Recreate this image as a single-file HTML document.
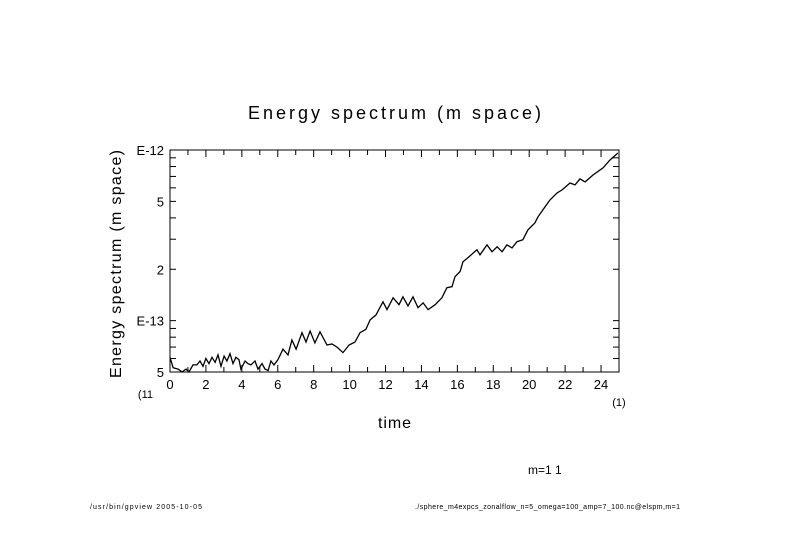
<!DOCTYPE html>
<html><head><meta charset="utf-8"><style>
html,body{margin:0;padding:0;background:#fff;}
svg{display:block;font-family:"Liberation Sans",sans-serif;}
</style></head><body>
<svg id="chart" width="789" height="558" viewBox="0 0 789 558">
<rect x="0" y="0" width="789" height="558" fill="#fff"/>
<text x="248" y="119" font-size="18" textLength="293" lengthAdjust="spacing">Energy spectrum (m space)</text>
<text x="378" y="428" font-size="16" textLength="33" lengthAdjust="spacing">time</text>
<text transform="translate(121,378) rotate(-90)" font-size="16" textLength="228" lengthAdjust="spacing">Energy spectrum (m space)</text>
<text x="153" y="398" font-size="11" text-anchor="end">(11</text>
<text x="619" y="406" font-size="11" text-anchor="middle">(1)</text>
<text x="528" y="474" font-size="12">m=1 1</text>
<text x="90" y="509" font-size="7" textLength="112" lengthAdjust="spacing">/usr/bin/gpview  2005-10-05</text>
<text x="415" y="509" font-size="7" textLength="265" lengthAdjust="spacing">./sphere_m4expcs_zonalflow_n=5_omega=100_amp=7_100.nc@elspm,m=1</text>
<g id="axes"></g>
<g id="series"></g>
</svg>
<script>
// data: time and energy (units of 1e-13)
const times = [0,0.17,0.45,0.67,0.89,1.06,1.28,1.5,1.67,1.84,2.0,2.17,2.34,2.51,2.67,2.84,3.01,3.17,3.34,3.51,3.67,3.84,3.95,4.18,4.34,4.51,4.73,4.9,5.12,5.29,5.46,5.62,5.79,6.01,6.29,6.57,6.79,7.02,7.35,7.57,7.8,8.07,8.35,8.74,9.02,9.3,9.63,9.97,10.3,10.58,10.91,11.14,11.47,11.86,12.08,12.42,12.75,12.97,13.25,13.53,13.81,14.09,14.37,14.76,15.14,15.42,15.7,15.87,16.15,16.31,16.59,17.09,17.26,17.65,17.93,18.21,18.49,18.76,19.04,19.32,19.65,19.93,20.32,20.49,20.88,21.16,21.55,21.83,22.27,22.55,22.83,23.11,23.55,24.11,24.5,24.94];
const energy = [0.61,0.53,0.52,0.50,0.52,0.50,0.55,0.55,0.58,0.54,0.60,0.56,0.61,0.57,0.63,0.54,0.62,0.58,0.64,0.56,0.61,0.59,0.52,0.58,0.56,0.55,0.58,0.52,0.56,0.52,0.51,0.58,0.55,0.59,0.68,0.63,0.77,0.68,0.85,0.75,0.87,0.74,0.86,0.72,0.73,0.70,0.65,0.72,0.75,0.85,0.89,1.01,1.08,1.29,1.16,1.36,1.24,1.38,1.22,1.38,1.19,1.27,1.16,1.24,1.36,1.56,1.58,1.81,1.94,2.21,2.34,2.60,2.43,2.78,2.53,2.71,2.53,2.78,2.67,2.90,2.98,3.40,3.74,4.06,4.64,5.10,5.60,5.84,6.41,6.24,6.77,6.50,7.14,7.85,8.74,9.60];
const xTickLabels = [0,2,4,6,8,10,12,14,16,18,20,22,24];
const yTickValues = [0.5,1,2,5,10];
const yTickLabels = ["5","E-13","2","5","E-12"];

const X0=170,X1=619,Y0=150,Y1=372;
const xMin=0,xMax=25,yMin=Math.log10(0.5),yMax=1;
const xs=t=>X0+(t-xMin)/(xMax-xMin)*(X1-X0);
const ys=v=>Y1-(Math.log10(v)-yMin)/(yMax-yMin)*(Y1-Y0);
const NS="http://www.w3.org/2000/svg";
const axes=document.getElementById('axes');
function mk(tag,attrs,parent){const e=document.createElementNS(NS,tag);for(const k in attrs)e.setAttribute(k,attrs[k]);parent.appendChild(e);return e;}

const frame=mk('rect',{x:X0,y:Y0,width:X1-X0,height:Y1-Y0,fill:'none',stroke:'#000','stroke-width':1},axes);



for(let t=0;t<=25;t++){
  const x=xs(t),len=(t%2===0)?7:5;
  const tb=mk('line',{x1:x,y1:Y1,x2:x,y2:Y1-len,stroke:'#000'},axes);
  
  
  const tt=mk('line',{x1:x,y1:Y0,x2:x,y2:Y0+len,stroke:'#000'},axes);
  
  
}
xTickLabels.forEach(t=>{
  const l=mk('text',{x:xs(t),y:Y1+17,'font-size':13,'text-anchor':'middle'},axes);
  l.textContent=t;
  
  
});
const minor=[0.5,0.6,0.7,0.8,0.9,1,2,3,4,5,6,7,8,9,10];
minor.forEach(v=>{
  const y=ys(v);
  const a=mk('line',{x1:X0,y1:y,x2:X0+6,y2:y,stroke:'#000'},axes);
  
  
  const b=mk('line',{x1:X1,y1:y,x2:X1-6,y2:y,stroke:'#000'},axes);
  
  
});
yTickValues.forEach((v,i)=>{
  const l=mk('text',{x:X0-6,y:ys(v)+5,'font-size':13,'text-anchor':'end'},axes);
  l.textContent=yTickLabels[i];
  
  
});
const pts=times.map((t,i)=>xs(t).toFixed(1)+','+ys(energy[i]).toFixed(1)).join(' ');
const line=mk('polyline',{points:pts,fill:'none',stroke:'#000','stroke-width':1.3},document.getElementById('series'));


</script>
</body></html>
